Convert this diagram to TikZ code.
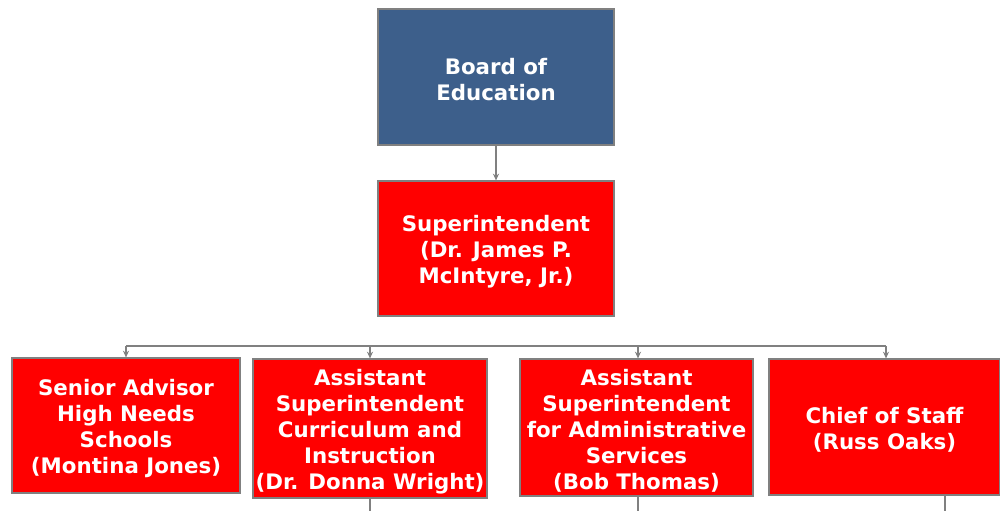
\documentclass[tikz,border=0pt]{standalone}
\usepackage{fontspec}
\setmainfont{DejaVu Sans}
\usetikzlibrary{arrows.meta}
\definecolor{boardblue}{HTML}{3D5F8B}
\definecolor{boxred}{HTML}{FF0000}
\definecolor{linegray}{HTML}{808080}
\newcommand\topstrut{\rule{0pt}{16.5pt}}
\begin{document}
\begin{tikzpicture}[x=0.75pt,y=-0.75pt,
  box/.style={draw=linegray, line width=0.9pt, fill=boxred, text=white,
    font=\bfseries\fontsize{16}{19.5}\selectfont, align=center, inner sep=0pt},
  conn/.style={draw=linegray, line width=0.9pt, -{Stealth[length=5pt,width=4.5pt]}},
  plain/.style={draw=linegray, line width=0.9pt}]
\useasboundingbox (0,0) rectangle (1000,511);
\fill[white] (0,0) rectangle (1000,511);
\node[box, fill=boardblue, minimum width=236*0.75pt, minimum height=136*0.75pt] (board) at (496,77) {\topstrut Board of\\Education};
\node[box, minimum width=236*0.75pt, minimum height=135*0.75pt] (sup) at (496,248.5) {\topstrut Superintendent\\(Dr. James P.\\McIntyre, Jr.)};
\node[box, minimum width=228*0.75pt, minimum height=135*0.75pt] (adv) at (126,425.5) {\topstrut Senior Advisor\\High Needs\\Schools\\(Montina Jones)};
\node[box, minimum width=234*0.75pt, minimum height=139*0.75pt] (curr) at (370,428.5) {\topstrut Assistant\\Superintendent\\Curriculum and\\Instruction\\(Dr. Donna Wright)};
\node[box, minimum width=233*0.75pt, minimum height=137*0.75pt] (admin) at (636.5,427.5) {\topstrut Assistant\\Superintendent\\for Administrative\\Services\\(Bob Thomas)};
\node[box, minimum width=231*0.75pt, minimum height=136*0.75pt] (chief) at (884.5,427) {\topstrut Chief of Staff\\(Russ Oaks)};
\draw[conn] (board.south) -- (sup.north);
\coordinate (busL) at (126,346);
\coordinate (busR) at (886,346);
\draw[plain] (busL) -- (busR);
\draw[conn] (busL) -- (adv.north);
\draw[conn] (370,346) -- (curr.north);
\draw[conn] (638,346) -- (admin.north -| 638,0);
\draw[conn] (busR) -- (chief.north -| 886,0);
\coordinate (e2) at (370,511);
\coordinate (e3) at (638,511);
\coordinate (e4) at (945,511);
\draw[plain] (curr.south) -- (e2);
\draw[plain] (admin.south -| e3) -- (e3);
\draw[plain] (chief.south -| e4) -- (e4);
\end{tikzpicture}
\end{document}
